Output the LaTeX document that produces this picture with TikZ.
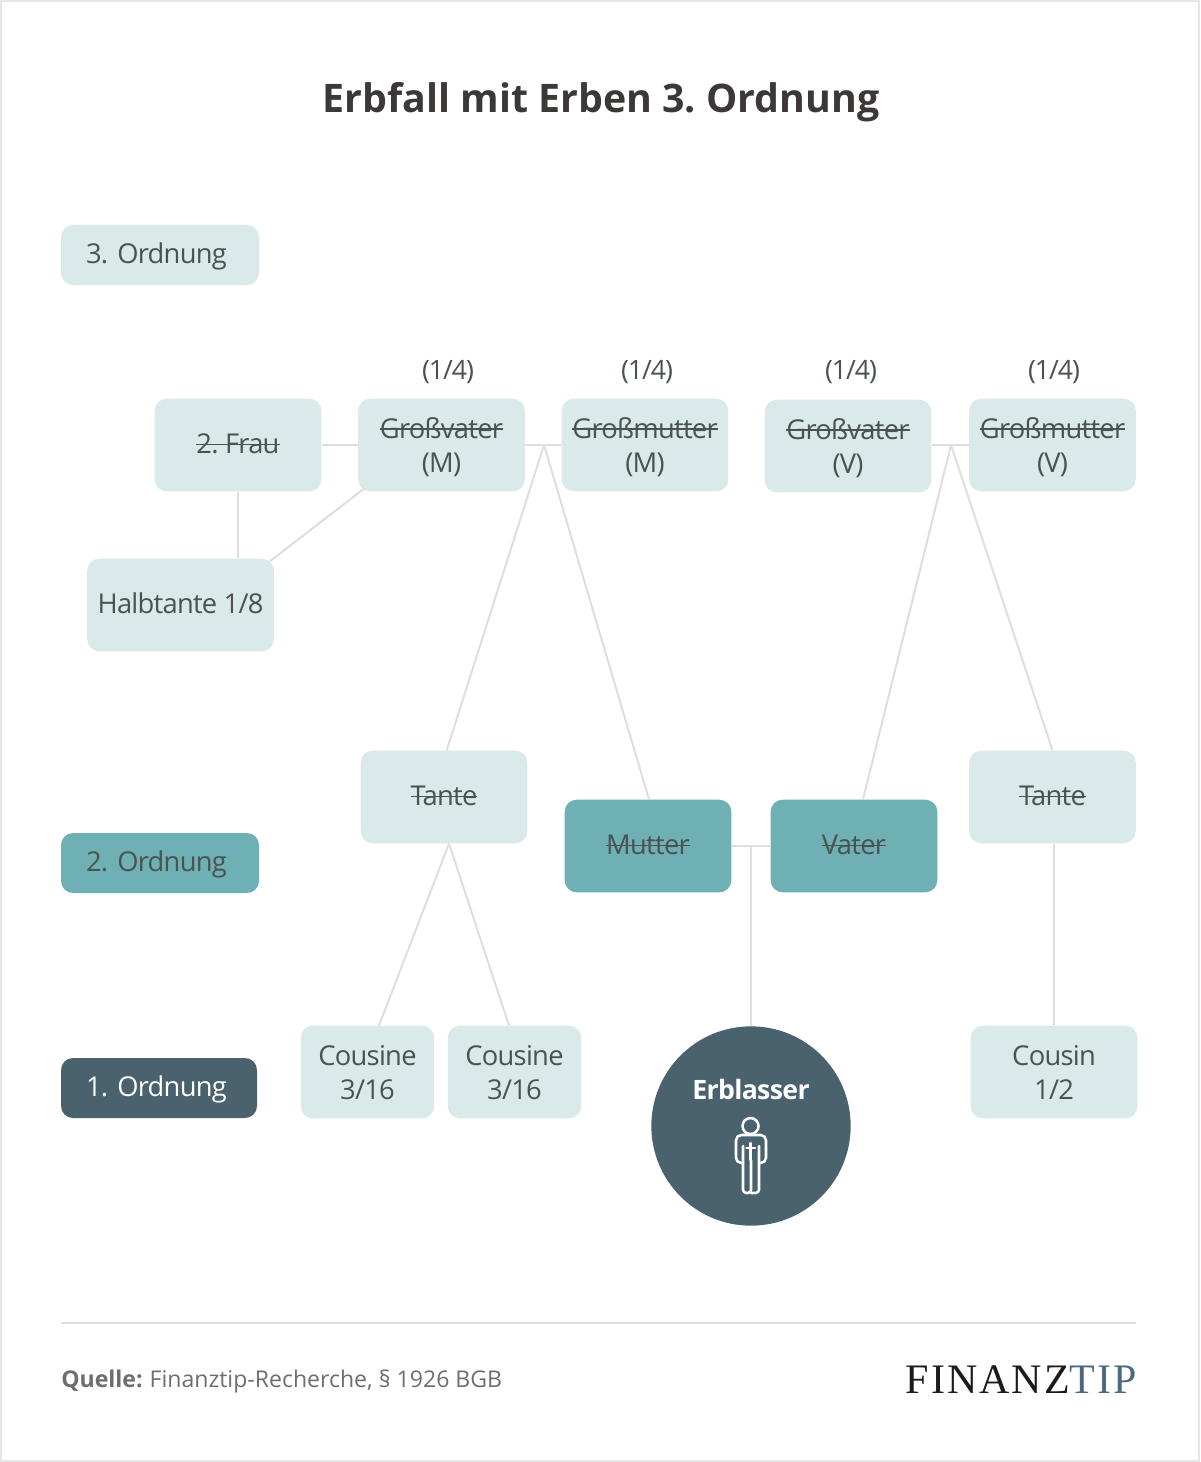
\documentclass[tikz,border=0pt]{standalone}
\usepackage{fontspec}
\setmainfont{Open Sans}
\newfontfamily\boxfont[LetterSpace=-2.7]{Open Sans}
\newfontfamily\sharefont[LetterSpace=-4]{Open Sans}
\newfontfamily\semifont[LetterSpace=-2.5]{Open Sans}
\newfontfamily\logofont[LetterSpace=4.7]{Liberation Serif}
\usetikzlibrary{calc}
\definecolor{lightbox}{HTML}{DAE9E9}
\definecolor{tealbox}{HTML}{6FB0B5}
\definecolor{darkbox}{HTML}{49626D}
\definecolor{textc}{HTML}{4A5252}
\definecolor{linec}{HTML}{DEDEDE}
\definecolor{titlec}{HTML}{3D3838}
\definecolor{sourcec}{HTML}{6E6E6E}
\definecolor{framec}{HTML}{E6E6E6}
\definecolor{logoblue}{HTML}{4C6A7C}
\definecolor{logoblack}{HTML}{1E1A1A}
\newsavebox{\strkbox}
\newlength{\strkw}
\newcommand{\strk}[1]{\sbox{\strkbox}{#1}\setlength{\strkw}{\wd\strkbox}\mbox{\rlap{\usebox{\strkbox}}\rule[0.31em]{\strkw}{0.055em}}}
\newcommand{\fs}{\rule[-5pt]{0pt}{25pt}}
\newcommand{\one}[1]{\rule[-6pt]{0pt}{25pt}#1}
\newcommand{\two}[2]{\fs #1\\\fs #2}
\tikzset{
  px/.style={x=0.75pt,y=-0.75pt},
  boxbase/.style={rounded corners=9pt,inner sep=0pt,align=center,text=textc,font=\frenchspacing\fontsize{20.5}{25.5}\boxfont},
  person/.style={boxbase,fill=lightbox,minimum width=125pt,minimum height=69.5pt},
  parent/.style={person,fill=tealbox},
  cousinbox/.style={person,minimum width=100pt},
  halfbox/.style={person,minimum width=140pt},
  levelbox/.style={rounded corners=9pt,minimum height=45pt,inner ysep=0pt,inner xsep=18.75pt,text width=111pt,align=left,text=textc,font=\frenchspacing\fontsize{20.5}{25.5}\boxfont},
  conn/.style={draw=linec,line width=1.5pt},
  share/.style={text=textc,font=\fontsize{20}{25.5}\sharefont,inner sep=0pt},
}
\begin{document}
\begin{tikzpicture}[px]
\useasboundingbox (0,0) rectangle (1200,1462);
\draw[framec,line width=1.5pt] (1,1) rectangle (1199,1461);

\node[anchor=center,inner sep=0pt,text=titlec,font=\frenchspacing\fontsize{29.5}{36}\bfseries\selectfont] (title) at (601,102.5) {Erbfall mit Erben 3. Ordnung};

% nodes
\node[levelbox,fill=lightbox] (o3) at (160,255) {\one{\mbox{3. Ordnung}}};
\node[levelbox,fill=tealbox] (o2) at (160,863) {\one{\mbox{2. Ordnung}}};
\node[levelbox,fill=darkbox,text=white,text width=109.5pt] (o1) at (159,1088) {\one{\mbox{1. Ordnung}}};

\node[person] (frau) at (238,445) {\one{\strk{2. Frau}}};
\node[person] (gvm) at (441.5,445) {\two{\strk{Großvater}}{(M)}};
\node[person] (gmm) at (645,445) {\two{\strk{Großmutter}}{(M)}};
\node[person] (gvv) at (848,446) {\two{\strk{Großvater}}{(V)}};
\node[person] (gmv) at (1052.5,445) {\two{\strk{Großmutter}}{(V)}};
\node[halfbox] (halb) at (180.5,605) {\one{Halbtante 1/8}};
\node[person] (tl) at (444,797) {\one{\strk{Tante}}};
\node[parent] (mutter) at (648,846) {\one{\strk{Mutter}}};
\node[parent] (vater) at (854,846) {\one{\strk{Vater}}};
\node[person] (tr) at (1052.5,797) {\one{\strk{Tante}}};
\node[cousinbox] (c1) at (367.5,1072) {\two{Cousine}{3/16}};
\node[cousinbox] (c2) at (514.5,1072) {\two{Cousine}{3/16}};
\node[person] (cn) at (1054,1072) {\two{Cousin}{1/2}};
\node[circle,fill=darkbox,minimum size=149.5pt,inner sep=0pt] (erb) at (751,1126) {};
\node[inner sep=0pt,text=white,font=\fontsize{20}{25.5}\semifont\bfseries] (erbl) at (751,1089) {Erblasser};

\node[share] (s1) at (448,372) {(1/4)};
\node[share] (s2) at (647,372) {(1/4)};
\node[share] (s3) at (851,372) {(1/4)};
\node[share] (s4) at (1054,372) {(1/4)};

% junctions
\coordinate (jm) at (544,445);
\coordinate (jv) at (951,445);
\coordinate (jp) at (751,846);

% connectors
\draw[conn] (frau.east) -- (gvm.west);
\draw[conn] (gvm.east) -- (gmm.west);
\draw[conn] (gvv.east |- jv) -- (gmv.west |- jv);
\draw[conn] (jm) -- ([xshift=2pt]tl.north);
\draw[conn] (jm) -- ([xshift=0.75pt]mutter.north);
\draw[conn] (jv) -- ([xshift=6.75pt]vater.north);
\draw[conn] (jv) -- (tr.north);
\draw[conn] (tl.south) ++(5,0) coordinate (tlb) -- ($(c1.north)+(11.5,0)$);
\draw[conn] (tlb) -- ($(c2.north)+(-5.5,0)$);
\draw[conn] (mutter.east) -- (vater.west);
\draw[conn] (jp) -- (erb.north);
\draw[conn] (tr.south -| cn.north) -- (cn.north);
\draw[conn] (frau.south) -- (frau.south |- halb.north);
\draw[conn] ([xshift=5pt,yshift=2.5pt]gvm.south west) -- ([xshift=-3pt,yshift=-2pt]halb.north east);

% icon
\begin{scope}[line width=1.9pt,line join=round,line cap=round]
\draw[white] (750.5,1126) circle[radius=8];
\draw[white,rounded corners=4pt]
  (751,1135) -- (736,1135) -- (736,1163) -- (743,1163);
\draw[white,rounded corners=4pt]
  (751,1135) -- (766,1135) -- (766,1163) -- (759,1163);
\draw[white,rounded corners=2.5pt] (743,1146) -- (743,1193) -- (751,1193) -- (751,1160);
\draw[white,rounded corners=2.5pt] (759,1146) -- (759,1193) -- (751,1193);
\draw[white,line width=1.6pt] (750.5,1143) -- (750.5,1160) (746.5,1148) -- (755,1148);
\end{scope}

% footer
\coordinate (fl) at (61,1323);
\coordinate (fr) at (1136,1323);
\draw[conn] (fl) -- (fr);
\node[anchor=west,inner sep=0pt,text=sourcec,font=\fontsize{17.3}{22}\selectfont] (src) at (61,1381) {\textbf{Quelle:}\hspace{0.3em}Finanztip-Recherche, § 1926 BGB};
\node[anchor=east,inner sep=0pt,font=\fontsize{31.5}{36}\logofont] (logo) at (1137,1380) {\textcolor{logoblack}{FINANZ}\textcolor{logoblue}{TIP}};
\end{tikzpicture}
\end{document}
